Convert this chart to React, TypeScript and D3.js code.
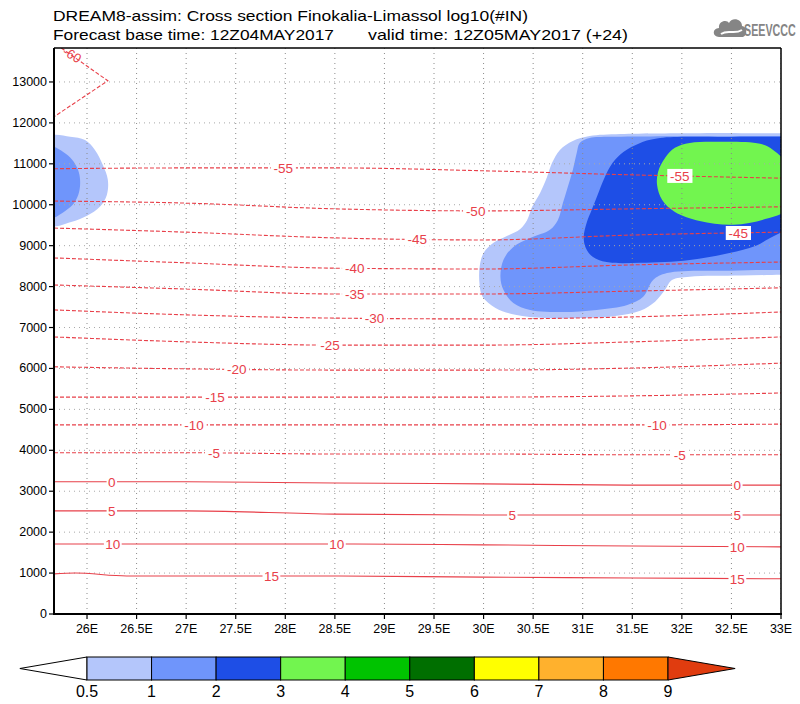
import React from 'react';
import * as d3 from 'd3';

const W = 800;
const H = 704;
const LON_MIN = 25.667;
const LON_MAX = 33.0;
const H_MAX = 13830;

const lonTicks = [26, 26.5, 27, 27.5, 28, 28.5, 29, 29.5, 30, 30.5, 31, 31.5, 32, 32.5, 33];
const heightTicks = [0, 1000, 2000, 3000, 4000, 5000, 6000, 7000, 8000, 9000, 10000, 11000, 12000, 13000];

const levels = [0.5, 1, 2, 3, 4, 5, 6, 7, 8, 9];
const levelColors = ['#ffffff', '#b4c6fb', '#6f95fb', '#1e4ee6', '#72f54f', '#00c300', '#006f00', '#ffff00', '#ffb12d', '#ff7800', '#e03c0f'];

// shaded regions (lon, height m); outlines cross the plot borders and are clipped there
const shadeLeft05: [number, number][] = [
  [25.62, 11660], [25.83, 11660], [25.98, 11580], [26.08, 11340], [26.16, 10970], [26.21, 10610],
  [26.2, 10240], [26.13, 9950], [26.0, 9730], [25.84, 9580], [25.62, 9500], [25.62, 10600],
];
const shadeLeft1: [number, number][] = [
  [25.62, 11420], [25.76, 11290], [25.85, 11100], [25.91, 10850], [25.93, 10610], [25.92, 10310],
  [25.87, 10040], [25.78, 9850], [25.62, 9670], [25.62, 10550],
];
const shadeRight05: [number, number][] = [
  [33.3, 11750], [33.1, 11750], [32.6, 11750], [32.18, 11750], [31.38, 11730], [31.07, 11680], [30.9, 11560], [30.77, 11340],
  [30.69, 11020], [30.64, 10680], [30.57, 10290], [30.49, 9950], [30.44, 9630], [30.37, 9410],
  [30.24, 9240], [30.1, 9070], [30.0, 8820], [29.96, 8480], [29.96, 8040], [29.99, 7750],
  [30.12, 7480], [30.32, 7310], [30.62, 7230], [30.97, 7230], [31.33, 7280], [31.58, 7410],
  [31.73, 7630], [31.83, 7920], [31.9, 8160], [32.08, 8240], [32.6, 8270], [33.1, 8290], [33.3, 8290],
];
const shadeRight1: [number, number][] = [
  [33.3, 11680], [33.1, 11680], [32.5, 11675], [31.28, 11660], [31.07, 11630], [30.97, 11510], [30.94, 11270], [30.9, 10850],
  [30.85, 10440], [30.8, 10040], [30.75, 9630], [30.67, 9390], [30.47, 9190], [30.3, 8970],
  [30.2, 8650], [30.17, 8240], [30.2, 7920], [30.3, 7600], [30.47, 7430], [30.8, 7380],
  [31.14, 7430], [31.45, 7550], [31.61, 7750], [31.71, 8160], [31.85, 8330], [32.5, 8390], [33.1, 8410], [33.3, 8410],
];
const shadeRight2: [number, number][] = [
  [33.3, 11660], [33.1, 11660], [32.5, 11655], [31.78, 11630], [31.58, 11510], [31.41, 11290], [31.3, 11020], [31.22, 10660],
  [31.15, 10240], [31.09, 9870], [31.04, 9560], [31.01, 9210], [31.03, 8950], [31.1, 8730],
  [31.24, 8600], [31.58, 8580], [32.08, 8650], [32.48, 8820], [32.74, 8990], [32.89, 9190], [33.05, 9370],
  [33.3, 9500],
];
const shadeRight3: [number, number][] = [
  [33.05, 11020], [32.92, 11340], [32.79, 11490], [32.38, 11540], [32.08, 11510], [31.93, 11390],
  [31.83, 11140], [31.76, 10800], [31.75, 10480], [31.8, 10120], [31.93, 9820], [32.18, 9600],
  [32.52, 9510], [32.84, 9650], [33.05, 9870], [33.1, 10450],
];

// temperature isotherms (deg C): lon, height
const isoM60: [number, number][] = [[25.74, 13830], [26.21, 13030], [25.667, 12150]];
const isoM55: [number, number][] = [[25.667, 10880], [27, 10900], [28.5, 10900], [30, 10830], [31.5, 10730], [33, 10650]];
const isoM50: [number, number][] = [[25.667, 10090], [27, 10040], [28.5, 9900], [30, 9850], [31.5, 9900], [33, 9950]];
const isoM45: [number, number][] = [[25.667, 9430], [27, 9330], [28.5, 9190], [30, 9140], [31.5, 9260], [33, 9330]];
const isoM40: [number, number][] = [[25.667, 8700], [27, 8580], [28.5, 8450], [30, 8430], [31.5, 8530], [33, 8600]];
const isoM35: [number, number][] = [[25.667, 8040], [27, 7940], [28.5, 7820], [30, 7820], [31.5, 7890], [33, 7970]];
const isoM30: [number, number][] = [[25.667, 7430], [27, 7310], [28.5, 7230], [30, 7210], [31.5, 7260], [33, 7380]];
const isoM25: [number, number][] = [[25.667, 6770], [27, 6650], [28.5, 6570], [30, 6570], [31.5, 6650], [33, 6770]];
const isoM20: [number, number][] = [[25.667, 6040], [27, 5990], [28.5, 5960], [30, 5960], [31.5, 6010], [33, 6130]];
const isoM15: [number, number][] = [[25.667, 5300], [27, 5300], [28.5, 5300], [30, 5300], [31.5, 5330], [33, 5400]];
const isoM10: [number, number][] = [[25.667, 4620], [27, 4620], [28.5, 4620], [30, 4620], [31.5, 4620], [33, 4640]];
const isoM5: [number, number][] = [[25.667, 3940], [27, 3940], [28.5, 3910], [30, 3910], [31.5, 3890], [33, 3890]];
const iso0: [number, number][] = [[25.667, 3230], [27, 3230], [28.5, 3200], [30, 3180], [31.5, 3150], [33, 3150]];
const iso5: [number, number][] = [[25.667, 2520], [27, 2520], [28.5, 2440], [30, 2420], [31.5, 2420], [33, 2420]];
const iso10: [number, number][] = [[25.667, 1710], [27, 1710], [28.5, 1710], [30, 1690], [31.5, 1660], [33, 1640]];
const iso15: [number, number][] = [[25.667, 980], [25.88, 1000], [26.4, 930], [27, 930], [28.5, 930], [30, 900], [31.5, 880], [33, 860]];

const isotherms = [
  { t: -55, pts: isoM55, labels: [27.98, 31.98] },
  { t: -50, pts: isoM50, labels: [29.92] },
  { t: -45, pts: isoM45, labels: [29.33, 32.57] },
  { t: -40, pts: isoM40, labels: [28.7] },
  { t: -35, pts: isoM35, labels: [28.7] },
  { t: -30, pts: isoM30, labels: [28.9] },
  { t: -25, pts: isoM25, labels: [28.45] },
  { t: -20, pts: isoM20, labels: [27.51] },
  { t: -15, pts: isoM15, labels: [27.29] },
  { t: -10, pts: isoM10, labels: [27.08, 31.75] },
  { t: -5, pts: isoM5, labels: [27.28, 31.98] },
  { t: 0, pts: iso0, labels: [26.25, 32.56] },
  { t: 5, pts: iso5, labels: [26.25, 30.29, 32.56] },
  { t: 10, pts: iso10, labels: [26.26, 28.52, 32.56] },
  { t: 15, pts: iso15, labels: [27.86, 32.56] },
];

const FONT = "'Liberation Sans', Arial, Helvetica, sans-serif";
const RED = '#e8404a';

function interpH(pts: [number, number][], lon: number): number {
  for (let i = 0; i < pts.length - 1; i++) {
    const [x0, y0] = pts[i];
    const [x1, y1] = pts[i + 1];
    if (lon >= x0 && lon <= x1) return y0 + ((lon - x0) / (x1 - x0)) * (y1 - y0);
  }
  return pts[pts.length - 1][1];
}

export default function App() {
  const L = 54, R = 781, T = 48, B = 614;
  const x = d3.scaleLinear().domain([LON_MIN, LON_MAX]).range([L, R]);
  const y = d3.scaleLinear().domain([0, H_MAX]).range([B, T]);

  const area = d3.line<[number, number]>().x(d => x(d[0])).y(d => y(d[1])).curve(d3.curveCatmullRomClosed.alpha(0.5));
  const iso = d3.line<[number, number]>().x(d => x(d[0])).y(d => y(d[1])).curve(d3.curveMonotoneX);
  const isoLin = d3.line<[number, number]>().x(d => x(d[0])).y(d => y(d[1]));

  const shades: { pts: [number, number][]; c: number }[] = [
    { pts: shadeLeft05, c: 1 }, { pts: shadeLeft1, c: 2 },
    { pts: shadeRight05, c: 1 }, { pts: shadeRight1, c: 2 }, { pts: shadeRight2, c: 3 }, { pts: shadeRight3, c: 4 },
  ];

  // colorbar
  const cb = d3.scaleLinear().domain([0, levels.length - 1]).range([87, 668]);
  const cbTop = 657, cbBot = 680, cbMid = (cbTop + cbBot) / 2;
  const cbStep = cb(1) - cb(0);

  return (
    <svg width={W} height={H} viewBox={`0 0 ${W} ${H}`} style={{ display: 'block', position: 'absolute', left: 0, top: 0, background: '#fff' }}>
      <rect x={0} y={0} width={W} height={H} fill="#fff" />
      <defs>
        <clipPath id="plotclip">
          <rect x={L} y={T} width={R - L} height={B - T} />
        </clipPath>
      </defs>

      {/* title */}
      <text x={53} y={21} fontFamily={FONT} fontSize={15} textLength={475} lengthAdjust="spacingAndGlyphs">DREAM8-assim: Cross section Finokalia-Limassol log10(#IN)</text>
      <text x={53} y={40} fontFamily={FONT} fontSize={15} textLength={281} lengthAdjust="spacingAndGlyphs">Forecast base time: 12Z04MAY2017</text>
      <text x={368} y={40} fontFamily={FONT} fontSize={15} textLength={260} lengthAdjust="spacingAndGlyphs">valid time: 12Z05MAY2017 (+24)</text>

      {/* logo */}
      <g fill="#858585">
        <path d="M719,37 C712,37 712,28 719,28 C718,21 727,19 729,23 C731,17 742,18 742,26 C747,26 748,35 743,37 Z" />
        <path d="M721,34 C728,29 734,35 742,30" stroke="#fff" strokeWidth={2} fill="none" />
        <text transform="translate(744,36) scale(0.63,1)" x={0} y={0} fontFamily={FONT} fontSize={17} fontWeight="bold">SEEVCCC</text>
      </g>

      <g clipPath="url(#plotclip)">
        {shades.map((s, i) => (
          <path key={i} d={area(s.pts) || ''} fill={levelColors[s.c]} />
        ))}
        {/* grid */}
        {lonTicks.map(t => (
          <line key={'gx' + t} x1={x(t)} x2={x(t)} y1={T} y2={B} stroke="#8a8a8a" strokeWidth={1} strokeDasharray="1 4" />
        ))}
        {heightTicks.filter(t => t > 0).map(t => (
          <line key={'gy' + t} x1={L} x2={R} y1={y(t)} y2={y(t)} stroke="#a8a8a8" strokeWidth={1} strokeDasharray="1 4" />
        ))}
        {/* isotherms */}
        <path d={isoLin(isoM60) || ''} fill="none" stroke={RED} strokeWidth={1.1} strokeDasharray="4 2" />
        <text x={x(25.85)} y={y(13660)} fontFamily={FONT} fontSize={13} fill={RED} textAnchor="middle" dominantBaseline="central" transform={`rotate(30 ${x(25.85)} ${y(13660)})`}>-60</text>
        {isotherms.map(c => (
          <path key={'i' + c.t} d={iso(c.pts) || ''} fill="none" stroke={RED} strokeWidth={1.1} strokeDasharray={c.t < 0 ? '4 2' : undefined} />
        ))}
        {isotherms.map(c => c.labels.map(lon => {
          const lx = x(lon);
          const ly = y(interpH(c.pts, lon));
          const txt = String(c.t);
          const w = txt.length * 7.4 + 3;
          return (
            <g key={'l' + c.t + '_' + lon}>
              <rect x={lx - w / 2} y={ly - 7} width={w} height={14} fill="#fff" />
              <text x={lx} y={ly + 0.5} fontFamily={FONT} fontSize={13.5} fill={RED} textAnchor="middle" dominantBaseline="central">{txt}</text>
            </g>
          );
        }))}
      </g>

      {/* frame */}
      <line x1={L} x2={R} y1={T} y2={T} stroke="#000" strokeWidth={1.5} />
      <line x1={R} x2={R} y1={T} y2={B} stroke="#000" strokeWidth={1.5} />
      <line x1={L} x2={L} y1={T} y2={B + 1} stroke="#000" strokeWidth={2} />
      <line x1={L - 1} x2={R + 1} y1={B} y2={B} stroke="#000" strokeWidth={2} />

      {/* y axis */}
      {heightTicks.map(t => (
        <g key={'yt' + t}>
          <line x1={L - 5} x2={L} y1={y(t)} y2={y(t)} stroke="#000" strokeWidth={1.2} />
          <text x={L - 7} y={y(t)} fontFamily={FONT} fontSize={12.5} textAnchor="end" dominantBaseline="central">{t}</text>
        </g>
      ))}
      {/* x axis */}
      {lonTicks.map(t => (
        <g key={'xt' + t}>
          <line x1={x(t)} x2={x(t)} y1={B} y2={B + 5} stroke="#000" strokeWidth={1.2} />
          <text x={x(t)} y={633} fontFamily={FONT} fontSize={12.5} textAnchor="middle">{`${t}E`}</text>
        </g>
      ))}

      {/* colorbar */}
      <polygon points={`${cb(0) - cbStep * 1.04},${cbMid} ${cb(0)},${cbTop} ${cb(0)},${cbBot}`} fill={levelColors[0]} stroke="#000" strokeWidth={1} />
      {levels.slice(0, -1).map((lv, i) => (
        <rect key={'cb' + lv} x={cb(i)} y={cbTop} width={cb(i + 1) - cb(i)} height={cbBot - cbTop} fill={levelColors[i + 1]} stroke="#000" strokeWidth={1} />
      ))}
      <polygon points={`${cb(levels.length - 1)},${cbTop} ${cb(levels.length - 1) + cbStep * 1.04},${cbMid} ${cb(levels.length - 1)},${cbBot}`} fill={levelColors[levelColors.length - 1]} stroke="#000" strokeWidth={1} />
      {levels.map((lv, i) => (
        <text key={'cbl' + lv} x={cb(i)} y={697} fontFamily={FONT} fontSize={16} textAnchor="middle">{String(lv)}</text>
      ))}
    </svg>
  );
}
